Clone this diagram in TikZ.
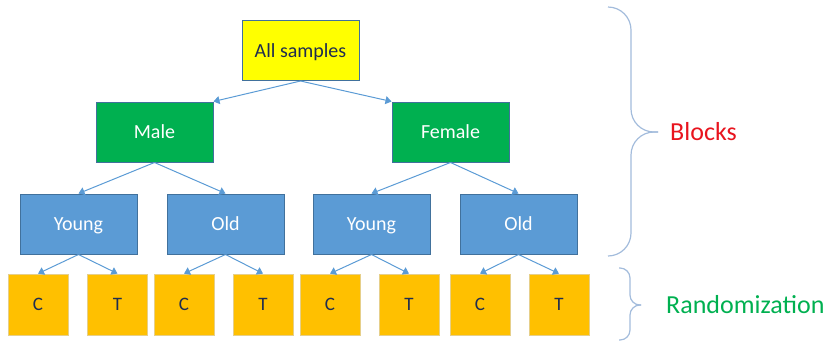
\documentclass[tikz,border=0pt]{standalone}
\usepackage{fontspec}
\setmainfont{Carlito}
\usepackage{tikz}
\usetikzlibrary{arrows.meta, positioning}

\definecolor{rootyellow}{HTML}{FFFF00}
\definecolor{sexgreen}{HTML}{00B050}
\definecolor{ageblue}{HTML}{5B9BD5}
\definecolor{armorange}{HTML}{FFC000}
\definecolor{edgeblue}{HTML}{41719C}
\definecolor{edgeorange}{HTML}{E6CF8A}
\definecolor{darktext}{HTML}{1F2D50}
\definecolor{bracegray}{HTML}{A3BCDC}
\definecolor{labelred}{HTML}{E8141E}

\begin{document}
\begin{tikzpicture}[
    x=1pt, y=-1pt,
    >={Triangle[length=6pt, width=8pt]},
    box/.style={
        draw=edgeblue,
        line width=1pt,
        minimum width=117pt,
        minimum height=60pt,
        inner sep=0pt,
        text height=13pt,
        text depth=0pt,
        align=center,
        font=\fontsize{20}{24}\selectfont
    },
    rootbox/.style={box, fill=rootyellow, text=darktext},
    sexbox/.style={box, fill=sexgreen, text=white},
    agebox/.style={box, fill=ageblue, text=white},
    leafbox/.style={
        draw=edgeorange,
        line width=0.8pt,
        fill=armorange,
        text=darktext,
        minimum width=60pt,
        minimum height=61pt,
        inner sep=0pt,
        text height=12pt,
        text depth=0pt,
        font=\fontsize{19}{23}\selectfont
    },
    link/.style={->, draw=ageblue, line width=1pt},
    bracket/.style={draw=bracegray, line width=1.2pt},
    note/.style={anchor=west, inner sep=0pt, font=\fontsize{26}{30}\selectfont}
]

\useasboundingbox (0,0) rectangle (827,341);

% Root
\node[rootbox] (all) at (300.5,50.5) {All samples};

% First blocking factor
\node[sexbox] (male)   at (154.5,132) {Male};
\node[sexbox] (female) at (450.5,132) {Female};

% Second blocking factor
\node[agebox] (young1) at (78.5,224)  {Young};
\node[agebox] (old1)   at (225.5,224) {Old};
\node[agebox] (young2) at (371.5,224) {Young};
\node[agebox] (old2)   at (518.5,224) {Old};

% Connectors between blocks
\draw[link] (all.south) -- (male.north east);
\draw[link] (all.south) -- (female.north west);
\draw[link] (male.south) -- (young1.north);
\draw[link] (male.south) -- (old1.north);
\draw[link] (female.south) -- (young2.north);
\draw[link] (female.south) -- (old2.north);

% Randomized units
\foreach \leaf/\x/\lbl/\up in {c1/38/C/young1, t1/117.5/T/young1,
                               c2/184/C/old1,   t2/263/T/old1,
                               c3/330/C/young2, t3/409/T/young2,
                               c4/480/C/old2,   t4/559/T/old2} {
    \node[leafbox] (\leaf) at (\x,304.5) {\lbl};
    \draw[link] (\up.south) -- (\leaf.north);
}

% Braces
\draw[bracket, rounded corners=23pt] (608,7) -| (631,132) -- (658,132);
\draw[bracket, rounded corners=23pt] (608,256) -| (631,132) -- (658,132);
\draw[bracket, rounded corners=10pt] (619,268) -| (630,305) -- (641,305);
\draw[bracket, rounded corners=10pt] (619,340) -| (630,305) -- (641,305);

% Brace labels
\node[note, text=labelred] (blocks) at (670,132) {Blocks};
\node[note, text=sexgreen] (random) at (666,305) {Randomization};

\end{tikzpicture}
\end{document}
